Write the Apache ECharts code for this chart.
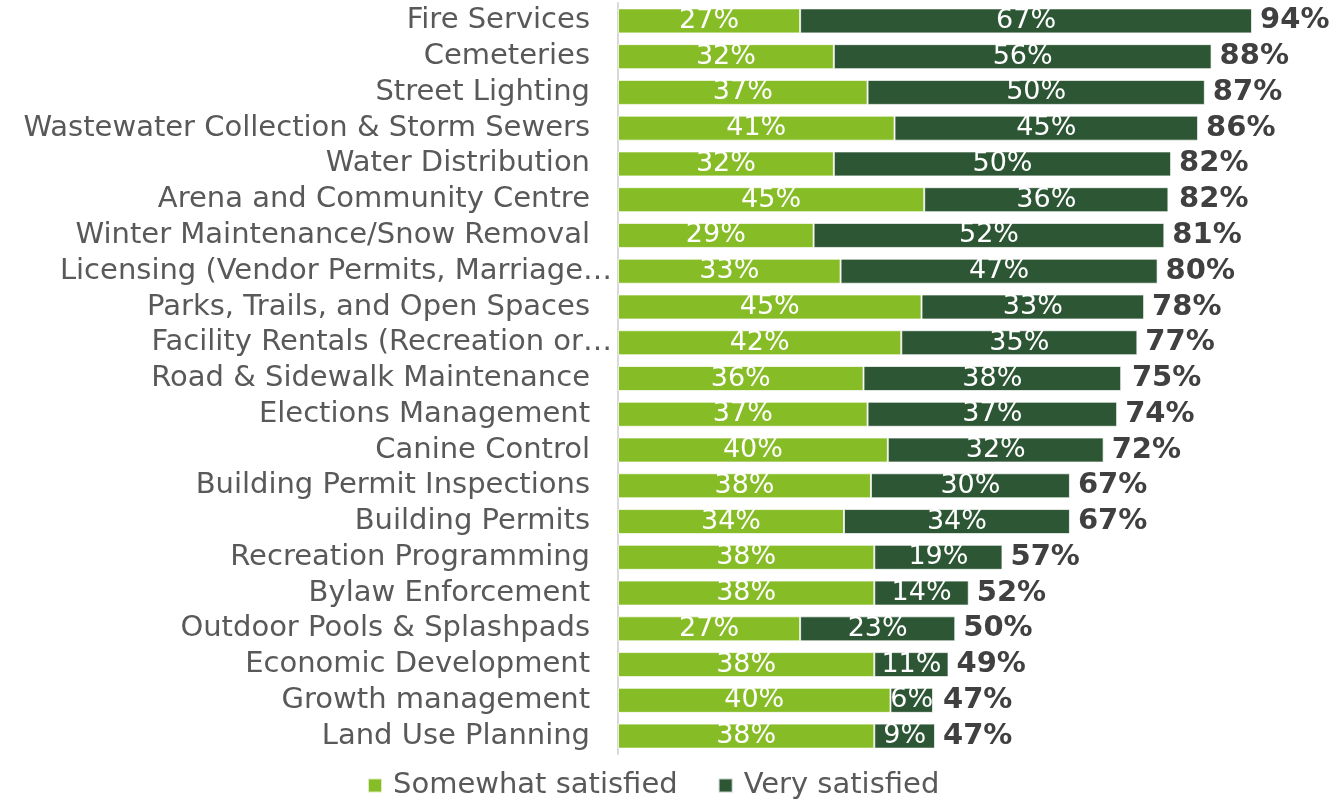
<!DOCTYPE html>
<html>
<head>
<meta charset="utf-8">
<script src="https://cdn.jsdelivr.net/npm/echarts@6/dist/echarts.min.js"></script>
<style>
  html, body { margin: 0; padding: 0; background: #fff; }
  #chart { width: 1334px; height: 799px; }
</style>
</head>
<body>
<div id="chart"></div>
<script>
  // values (percent); a few are estimated
  // from bar lengths where the printed rounded numbers don't add up
  const services = [
    'Fire Services', 'Cemeteries', 'Street Lighting', 'Wastewater Collection & Storm Sewers',
    'Water Distribution', 'Arena and Community Centre', 'Winter Maintenance/Snow Removal',
    'Licensing (Vendor Permits, Marriage…', 'Parks, Trails, and Open Spaces',
    'Facility Rentals (Recreation or…', 'Road & Sidewalk Maintenance', 'Elections Management',
    'Canine Control', 'Building Permit Inspections', 'Building Permits', 'Recreation Programming',
    'Bylaw Enforcement', 'Outdoor Pools & Splashpads', 'Economic Development',
    'Growth management', 'Land Use Planning'
  ];
  const somewhat = [27, 32, 37, 41, 32, 45.4, 29, 33, 45, 42, 36.4, 37, 40, 37.5, 33.5, 38, 38, 27, 38, 40.4, 38];
  const very = [67, 56, 50, 45, 50, 36.2, 52, 47, 33, 35, 38.2, 37, 32, 29.5, 33.5, 19, 14, 23, 11, 6.3, 9];
  const totals = [94, 88, 87, 86, 82, 82, 81, 80, 78, 77, 75, 74, 72, 67, 67, 57, 52, 50, 49, 47, 47];

  const lightGreen = '#86bc25';
  const darkGreen = '#2c5634';
  const font = 'DejaVu Sans, Verdana, sans-serif';

  const chart = echarts.init(document.getElementById('chart'));

  const innerLabel = {
    show: true,
    position: 'inside',
    color: '#fff',
    fontFamily: font,
    fontSize: 27,
    formatter: p => Math.round(p.value) + '%'
  };

  // truncated names hang a bit further right, as in the original
  const yData = services.map(s => s.endsWith('…')
    ? { value: s, textStyle: { padding: [0, -22, 0, 0] } }
    : s);

  chart.setOption({
    animation: false,
    textStyle: { fontFamily: font },
    grid: { left: 618, right: 41.5, top: 3, bottom: 45 },
    legend: {
      bottom: -6,
      left: 362,
      data: ['Somewhat satisfied', 'Very satisfied'],
      itemWidth: 14,
      itemHeight: 14,
      itemGap: 40,
      icon: 'rect',
      textStyle: { color: '#595959', fontSize: 29, fontFamily: font, padding: [0, 0, 0, 6] }
    },
    xAxis: {
      type: 'value',
      min: 0,
      max: 100,
      show: false
    },
    yAxis: {
      type: 'category',
      data: yData,
      inverse: true,
      axisLine: { show: true, lineStyle: { color: '#d9d9d9', width: 2 } },
      axisTick: { show: false },
      axisLabel: { color: '#595959', fontSize: 29, fontFamily: font, margin: 28, interval: 0 }
    },
    series: [
      {
        name: 'Somewhat satisfied',
        type: 'bar',
        stack: 'sat',
        data: somewhat,
        barWidth: 25,
        itemStyle: { color: lightGreen, borderColor: 'rgba(255,255,255,0.7)', borderWidth: 1 },
        label: innerLabel
      },
      {
        name: 'Very satisfied',
        type: 'bar',
        stack: 'sat',
        data: very,
        barWidth: 25,
        itemStyle: { color: darkGreen, borderColor: 'rgba(255,255,255,0.7)', borderWidth: 1 },
        label: innerLabel
      },
      {
        name: 'Total',
        type: 'bar',
        data: totals,
        barWidth: 25,
        barGap: '-100%',
        z: 1,
        silent: true,
        itemStyle: { color: 'rgba(0,0,0,0)' },
        label: {
          show: true,
          position: 'right',
          distance: 8,
          color: '#404040',
          fontWeight: 'bold',
          fontSize: 29,
          fontFamily: font,
          formatter: p => p.value + '%'
        }
      }
    ]
  });
</script>
</body>
</html>
